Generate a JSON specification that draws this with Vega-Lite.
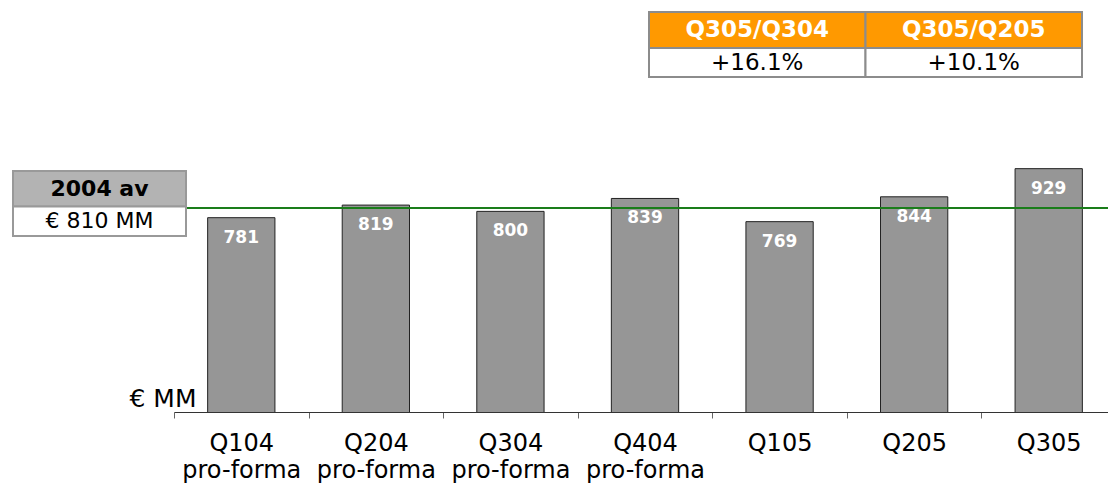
{
  "$schema": "https://vega.github.io/schema/vega-lite/v6.json",
  "width": 934,
  "height": 412,
  "autosize": {"type": "none"},
  "padding": {"left": 174, "top": 0, "right": 0, "bottom": 71},
  "background": "white",
  "config": {"view": {"stroke": null}, "font": "DejaVu Sans"},
  "datasets": {
    "bars": [
      {"quarter": "Q104 pro-forma", "value": 781},
      {"quarter": "Q204 pro-forma", "value": 819},
      {"quarter": "Q304 pro-forma", "value": 800},
      {"quarter": "Q404 pro-forma", "value": 839},
      {"quarter": "Q105", "value": 769},
      {"quarter": "Q205", "value": 844},
      {"quarter": "Q305", "value": 929}
    ],
    "avg": [{"avg": 810}],
    "tableHead": [
      {"col": "a", "row": "r", "label": "Q305/Q304"},
      {"col": "b", "row": "r", "label": "Q305/Q205"}
    ],
    "tableVal": [
      {"col": "a", "row": "r", "label": "+16.1%"},
      {"col": "b", "row": "r", "label": "+10.1%"}
    ],
    "boxHead": [{"col": "a", "row": "r", "label": "2004 av"}],
    "boxVal": [{"col": "a", "row": "r", "label": "€ 810 MM"}]
  },
  "layer": [
    {
      "layer": [
        {
          "data": {"name": "bars"},
          "mark": {"type": "bar", "fill": "#969696", "stroke": "#222222", "strokeWidth": 1, "width": {"band": 0.5}, "clip": true},
          "encoding": {
            "x": {
              "field": "quarter", "type": "nominal", "sort": null,
              "scale": {"range": [0, 942], "paddingInner": 0, "paddingOuter": 0},
              "axis": {
                "title": null, "labelAngle": 0, "labelExpr": "datum.value ? split(datum.value, ' ') : ''",
                "labelFontSize": 24, "labelColor": "#000000", "labelLineHeight": 27,
                "labelPadding": 13, "tickSize": 6, "tickColor": "#666666", "tickBand": "extent",
                "domainColor": "#333333", "domainWidth": 1, "labelFont": "DejaVu Sans", "zindex": 1
              }
            },
            "y": {
              "field": "value", "type": "quantitative",
              "scale": {"domain": [194.5, 1438], "zero": false, "nice": false},
              "axis": {
                "domain": false, "ticks": false, "labels": false, "grid": false,
                "title": "€ MM", "titleAngle": 0, "titleAlign": "right", "titleBaseline": "alphabetic",
                "titleX": 22, "titleY": 406, "titleFontSize": 25, "titleFontWeight": "normal",
                "titleColor": "#000000", "titleFont": "DejaVu Sans"
              }
            }
          }
        },
        {
          "data": {"name": "avg"},
          "mark": {"type": "rule", "color": "#1a7d1a", "strokeWidth": 2},
          "encoding": {"y": {"field": "avg", "type": "quantitative"}}
        },
        {
          "data": {"name": "bars"},
          "mark": {"type": "text", "color": "white", "fontSize": 17, "fontWeight": "bold", "baseline": "middle", "align": "center", "dy": 20},
          "encoding": {
            "x": {"field": "quarter", "type": "nominal", "sort": null},
            "y": {"field": "value", "type": "quantitative"},
            "text": {"field": "value", "type": "quantitative"}
          }
        }
      ]
    },
    {
      "data": {"name": "tableHead"},
      "encoding": {
        "x": {"field": "col", "type": "nominal", "scale": {"range": [475, 908], "paddingInner": 0, "paddingOuter": 0}, "axis": null},
        "y": {"field": "row", "type": "nominal", "scale": {"range": [12, 48], "paddingInner": 0, "paddingOuter": 0}, "axis": null}
      },
      "layer": [
        {"mark": {"type": "rect", "fill": "#ff9900", "stroke": "#8c8c8c", "strokeWidth": 2}},
        {"mark": {"type": "text", "color": "white", "fontSize": 23, "fontWeight": "bold", "baseline": "middle", "align": "center"},
         "encoding": {"text": {"field": "label"}}}
      ]
    },
    {
      "data": {"name": "tableVal"},
      "encoding": {
        "x": {"field": "col", "type": "nominal", "scale": {"range": [475, 908], "paddingInner": 0, "paddingOuter": 0}, "axis": null},
        "y": {"field": "row", "type": "nominal", "scale": {"range": [48, 77], "paddingInner": 0, "paddingOuter": 0}, "axis": null}
      },
      "layer": [
        {"mark": {"type": "rect", "fill": "white", "stroke": "#8c8c8c", "strokeWidth": 2}},
        {"mark": {"type": "text", "color": "black", "fontSize": 23, "baseline": "middle", "align": "center"},
         "encoding": {"text": {"field": "label"}}}
      ]
    },
    {
      "data": {"name": "boxHead"},
      "encoding": {
        "x": {"field": "col", "type": "nominal", "scale": {"range": [-161, 12], "paddingInner": 0, "paddingOuter": 0}, "axis": null},
        "y": {"field": "row", "type": "nominal", "scale": {"range": [171, 206.5], "paddingInner": 0, "paddingOuter": 0}, "axis": null}
      },
      "layer": [
        {"mark": {"type": "rect", "fill": "#b3b3b3", "stroke": "#999999", "strokeWidth": 2}},
        {"mark": {"type": "text", "color": "black", "fontSize": 22, "fontWeight": "bold", "baseline": "middle", "align": "center"},
         "encoding": {"text": {"field": "label"}}}
      ]
    },
    {
      "data": {"name": "boxVal"},
      "encoding": {
        "x": {"field": "col", "type": "nominal", "scale": {"range": [-161, 12], "paddingInner": 0, "paddingOuter": 0}, "axis": null},
        "y": {"field": "row", "type": "nominal", "scale": {"range": [206.5, 236], "paddingInner": 0, "paddingOuter": 0}, "axis": null}
      },
      "layer": [
        {"mark": {"type": "rect", "fill": "white", "stroke": "#999999", "strokeWidth": 2}},
        {"mark": {"type": "text", "color": "black", "fontSize": 22, "baseline": "middle", "align": "center"},
         "encoding": {"text": {"field": "label"}}}
      ]
    }
  ],
  "resolve": {"scale": {"x": "independent", "y": "independent"}}
}
